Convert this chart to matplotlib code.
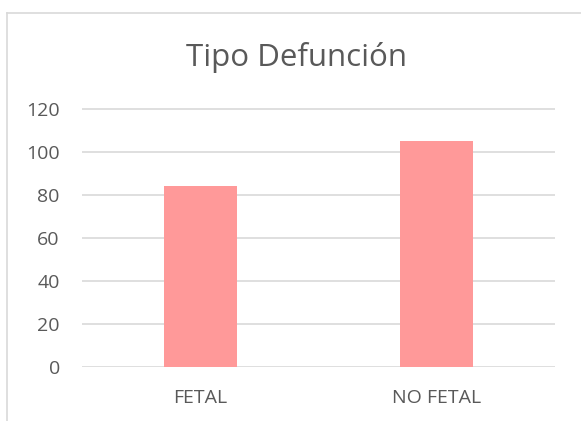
import matplotlib
matplotlib.use("Agg")
import matplotlib.pyplot as plt
from matplotlib.lines import Line2D

categories = ["FETAL", "NO FETAL"]
values = [84, 105]
yticks = [0, 20, 40, 60, 80, 100, 120]
title = "Tipo Defunción"

plt.rcParams["font.family"] = ["Open Sans", "DejaVu Sans"]

W, H = 581, 421
fig = plt.figure(figsize=(W / 100, H / 100), dpi=100)
fig.patch.set_facecolor("white")

# chart border (left and top)
fig.add_artist(Line2D([7 / W, 7 / W], [0, 1 - 13 / H], color="#D9D9D9", lw=1.2))
fig.add_artist(Line2D([7 / W, 1], [1 - 13 / H, 1 - 13 / H], color="#D9D9D9", lw=1.2))

ymax = 121
px_per_unit = (367 - 109) / 120
left = 82 / W
width = (555 - 82) / W
bottom = 1 - 367 / H
height = (ymax * px_per_unit) / H
ax = fig.add_axes([left, bottom, width, height])

x = list(range(len(categories)))
ax.bar(x, values, width=0.31, color="#FF9999", zorder=3)
ax.set_xlim(-0.5, len(categories) - 0.5)
ax.set_ylim(0, ymax)
ax.set_yticks(yticks)
ax.set_xticks(x)
ax.set_xticklabels(categories)
for s in ax.spines.values():
    s.set_visible(False)
ax.grid(axis="y", color="#D9D9D9", lw=1.2, zorder=0)
ax.grid(axis="x", visible=False)
ax.yaxis.set_tick_params(length=0, labelsize=14, labelcolor="#595959", pad=16)
ax.xaxis.set_tick_params(length=0, labelsize=14, labelcolor="#595959", pad=16)
ax.set_facecolor("none")

fig.text(296 / W, 1 - 66 / H, title, ha="center", va="baseline", fontsize=22.5, color="#595959")

fig.savefig("out.png", dpi=100)
